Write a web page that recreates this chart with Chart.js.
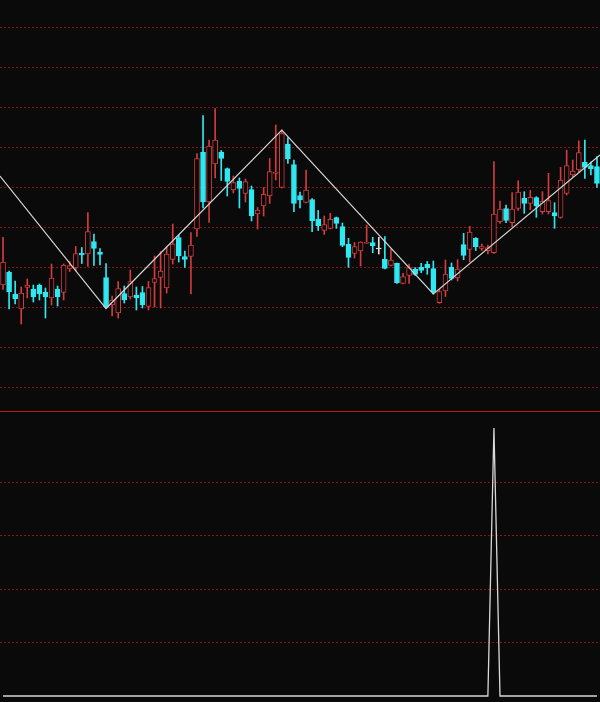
<!DOCTYPE html>
<html lang="en">
<head>
  <meta charset="UTF-8">
  <title>K-line with ZigZag</title>
  <script src="https://cdn.jsdelivr.net/npm/chart.js@4"></script>
  <style>
    html, body { margin: 0; padding: 0; background: #0a0a0a; }
    #wrap { position: relative; width: 600px; height: 702px; overflow: hidden; }
    #topBox { position: absolute; left: 0; top: 0; width: 600px; height: 411px; }
    #botBox { position: absolute; left: 0; top: 411px; width: 600px; height: 291px; }
    canvas { display: block; }
  </style>
</head>
<body>
<div id="wrap">
  <div id="topBox"><canvas id="kChart" width="600" height="411"></canvas></div>
  <div id="botBox"><canvas id="sigChart" width="600" height="291"></canvas></div>
</div>
<script>
  // candle data, one entry per bar
  const opens = [
    14.2, 15.5, 13.3, 11.8, 13.95, 13.8, 14.2, 13.5, 12.9, 13.8,
    13.45, 15.8, 15.9, 17.4, 17.3, 18.55, 17.5, 14.95, 12.2, 11.4,
    13.35, 13.0, 13.2, 13.45, 12.05, 14.45, 14.95, 13.9, 16.75, 18.95,
    17.05, 17.05, 19.8, 27.5, 22.5, 26.3, 27.5, 25.85, 23.7, 24.6,
    23.37, 23.75, 21.3, 22.12, 23.1, 25.35, 23.95, 28.3, 26.25, 23.15,
    22.45, 22.75, 20.8, 19.65, 19.87, 20.93, 20.03, 18.27, 17.37, 17.6,
    18.37, 18.43, 17.8, 16.77, 16.17, 16.37, 14.37, 15.15, 15.8, 15.97,
    16.27, 15.83, 12.43, 13.6, 15.97, 14.9, 18.23, 17.75, 18.87, 17.87,
    17.63, 17.43, 20.53, 21.83, 20.43, 21.87, 22.87, 22.37, 22.93, 21.53,
    21.53, 21.43, 20.97, 23.37, 25.2, 25.7, 26.47, 26.15, 26.03
  ];
  const highs = [
    18.97, 15.6, 14.6, 14.0, 14.8, 14.2, 14.3, 13.9, 16.3, 14.1,
    16.3, 16.55, 18.05, 17.95, 21.45, 19.3, 17.85, 16.35, 13.1, 14.55,
    14.1, 15.7, 14.0, 14.05, 14.55, 17.1, 17.55, 18.0, 20.3, 19.2,
    17.6, 19.45, 27.35, 31.15, 28.7, 31.85, 27.65, 25.9, 25.1, 24.9,
    24.8, 24.1, 21.95, 23.95, 26.85, 30.2, 29.7, 28.95, 26.7, 23.5,
    25.7, 22.85, 21.65, 21.1, 21.37, 21.0, 20.4, 18.87, 18.45, 18.53,
    20.2, 18.97, 18.97, 19.03, 17.8, 16.4, 15.37, 16.3, 15.93, 16.37,
    16.55, 16.6, 13.77, 16.7, 16.4, 16.73, 19.37, 20.07, 18.95, 18.3,
    18.2, 26.53, 22.6, 22.2, 23.43, 24.63, 23.53, 23.67, 23.03, 23.53,
    25.37, 22.43, 25.97, 27.7, 26.7, 28.63, 28.7, 26.5, 27.03
  ];
  const lows = [
    13.77, 11.8, 12.3, 10.3, 12.9, 12.5, 12.7, 10.9, 12.2, 12.1,
    12.7, 15.55, 15.6, 16.35, 16.05, 16.15, 16.2, 11.85, 11.1, 10.9,
    12.4, 12.8, 11.7, 11.9, 11.7, 12.0, 11.9, 13.4, 16.3, 16.5,
    15.95, 13.3, 19.05, 21.9, 20.45, 24.9, 24.65, 23.1, 23.4, 21.9,
    22.5, 20.6, 19.8, 21.1, 22.35, 24.7, 23.9, 26.35, 21.53, 21.9,
    22.4, 19.53, 19.65, 19.25, 19.8, 19.87, 18.03, 15.97, 16.9, 16.1,
    18.33, 17.43, 17.3, 15.8, 16.1, 14.37, 14.3, 14.37, 15.15, 15.43,
    15.27, 13.3, 12.37, 13.05, 14.7, 14.6, 16.73, 16.5, 17.65, 17.65,
    17.3, 17.37, 20.35, 20.43, 20.03, 21.65, 21.37, 21.73, 20.97, 21.3,
    21.3, 19.87, 20.87, 23.2, 25.03, 25.53, 24.87, 25.2, 23.97
  ];
  const closes = [
    16.5, 13.5, 12.8, 13.4, 14.2, 13.0, 13.3, 13.0, 14.9, 13.0,
    16.2, 16.15, 17.35, 17.2, 19.55, 17.85, 17.25, 12.0, 12.7, 13.85,
    12.7, 14.55, 12.9, 12.2, 13.95, 14.85, 15.6, 17.3, 18.3, 17.1,
    16.75, 18.2, 26.85, 22.5, 28.1, 28.7, 26.85, 24.55, 24.45, 23.85,
    24.53, 21.1, 21.7, 23.27, 25.53, 25.5, 29.35, 26.8, 22.37, 22.7,
    23.7, 20.63, 20.13, 20.25, 20.77, 20.37, 18.17, 16.95, 18.03, 18.5,
    18.43, 18.13, 17.8, 15.87, 16.7, 14.43, 15.03, 15.95, 15.27, 15.65,
    15.9, 13.53, 13.53, 15.3, 14.87, 15.8, 17.15, 19.5, 18.03, 18.05,
    17.95, 21.3, 21.8, 20.65, 21.8, 23.5, 22.37, 22.97, 22.1, 22.6,
    22.63, 21.1, 24.7, 26.13, 25.6, 27.43, 25.97, 25.8, 24.37
  ];

  // zigzag turning points (bar index, price); first/last sit on the chart edges
  const zigIdx = [-0.5, 17, 46, 71, 98.5];
  const zigVal = [25.1, 11.85, 29.7, 13.3, 27.2];

  // lower panel signal
  const signal = [
    0, 0, 0, 0, 0, 0, 0, 0, 0, 0,
    0, 0, 0, 0, 0, 0, 0, 0, 0, 0,
    0, 0, 0, 0, 0, 0, 0, 0, 0, 0,
    0, 0, 0, 0, 0, 0, 0, 0, 0, 0,
    0, 0, 0, 0, 0, 0, 0, 0, 0, 0,
    0, 0, 0, 0, 0, 0, 0, 0, 0, 0,
    0, 0, 0, 0, 0, 0, 0, 0, 0, 0,
    0, 0, 0, 0, 0, 0, 0, 0, 0, 0,
    0, 5, 0, 0, 0, 0, 0, 0, 0, 0,
    0, 0, 0, 0, 0, 0, 0, 0, 0
  ];

  const priceGrid = [4, 8, 12, 16, 20, 24, 28, 32, 36, 40];
  const signalGrid = [1, 2, 3, 4];

  const BG = '#0a0a0a';
  const UP = '#d23c3c';
  const DOWN = '#2ee8f2';
  const FLAT = '#e0e0e0';
  const GRID = '#8a1414';

  const candleColor = closes.map((c, i) => c > opens[i] ? UP : (c < opens[i] ? DOWN : FLAT));
  const bodyFill = closes.map((c, i) => c > opens[i] ? BG : candleColor[i]);

  // dotted horizontal guide lines, row picked from the y scale, drawn as 2px dashes
  const gridLines = {
    id: 'gridLines',
    beforeDatasetsDraw(chart, args, opts) {
      const { ctx, chartArea, scales } = chart;
      ctx.save();
      ctx.fillStyle = opts.color;
      opts.values.forEach(v => {
        const y = Math.round(scales.y.getPixelForValue(v));
        for (let x = chartArea.left; x < chartArea.right; x += 4) {
          ctx.fillRect(x, y, 2, 1);
        }
      });
      ctx.restore();
    }
  };

  // solid red line between the two panels
  const separator = {
    id: 'separator',
    afterDraw(chart) {
      const { ctx, chartArea } = chart;
      ctx.save();
      ctx.fillStyle = '#c01818';
      ctx.fillRect(chartArea.left, chartArea.top, chartArea.right - chartArea.left, 1);
      ctx.restore();
    }
  };

  const xScale = { type: 'linear', min: -0.5, max: 98.5, offset: false, bounds: 'data', display: false };

  new Chart(document.getElementById('kChart'), {
    type: 'bar',
    data: {
      datasets: [
        {
          type: 'line',
          data: zigIdx.map((x, k) => ({ x: x, y: zigVal[k] })),
          borderColor: '#d4d4d4',
          borderWidth: 1.2,
          pointRadius: 0,
          tension: 0,
          order: -1
        },
        {
          data: opens.map((o, i) => ({ x: i, y: [o, closes[i]] })),
          backgroundColor: bodyFill,
          borderColor: candleColor,
          borderWidth: 1,
          borderSkipped: false,
          barThickness: 5,
          minBarLength: 1,
          grouped: false,
          order: 0
        },
        {
          data: lows.map((l, i) => ({ x: i, y: [l, highs[i]] })),
          backgroundColor: candleColor,
          borderWidth: 0,
          barThickness: 1,
          grouped: false,
          order: 1
        }
      ]
    },
    options: {
      responsive: false,
      animation: false,
      layout: { padding: 0, autoPadding: false },
      plugins: {
        legend: { display: false },
        tooltip: { enabled: false },
        gridLines: { values: priceGrid, color: GRID }
      },
      scales: {
        x: xScale,
        y: { min: 1.6, max: 42.7, display: false }
      }
    },
    plugins: [gridLines]
  });

  new Chart(document.getElementById('sigChart'), {
    type: 'line',
    data: {
      datasets: [{
        data: signal.map((v, i) => ({ x: i, y: v })),
        borderColor: '#d8d8d8',
        borderWidth: 1.3,
        pointRadius: 0,
        tension: 0
      }]
    },
    options: {
      responsive: false,
      animation: false,
      layout: { padding: 0, autoPadding: false },
      plugins: {
        legend: { display: false },
        tooltip: { enabled: false },
        gridLines: { values: signalGrid, color: GRID }
      },
      scales: {
        x: xScale,
        y: { min: -0.112, max: 5.317, display: false }
      }
    },
    plugins: [gridLines, separator]
  });
</script>
</body>
</html>
